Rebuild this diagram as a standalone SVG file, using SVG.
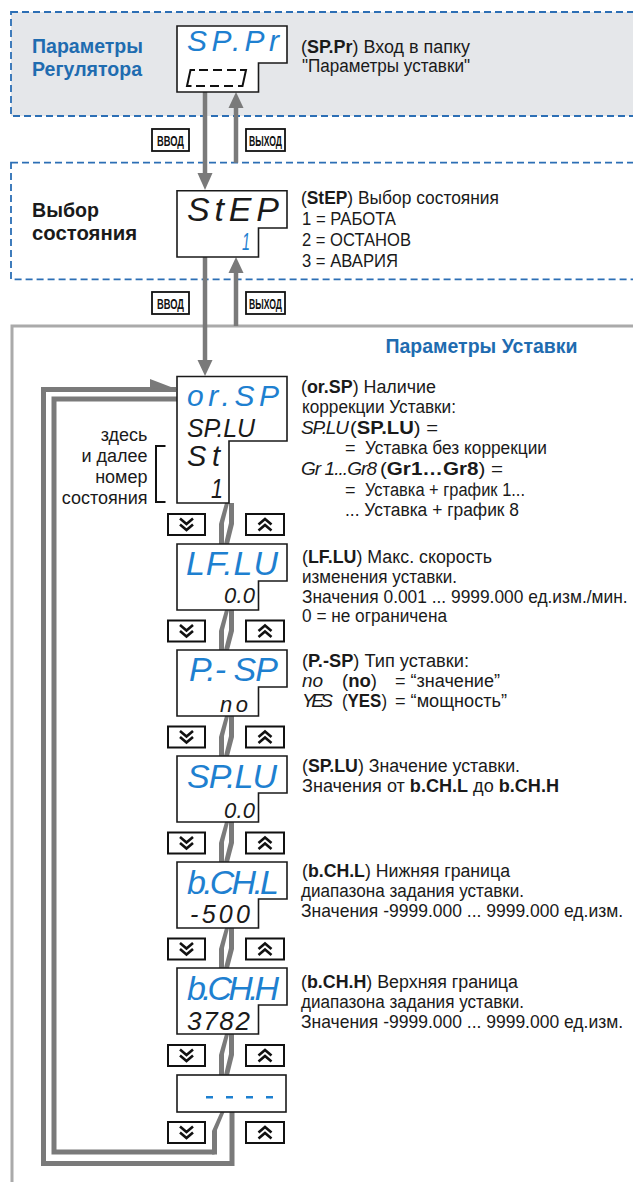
<svg xmlns="http://www.w3.org/2000/svg" width="633" height="1182" viewBox="0 0 633 1182">
<style>
.t{font-family:'Liberation Sans Narrow','Liberation Sans',Arial,sans-serif;font-size:18px;fill:#1a1a1a}
.b{font-weight:bold}
.h{font-family:'Liberation Sans Narrow','Liberation Sans',Arial,sans-serif;font-size:20px;font-weight:bold;fill:#1a1a1a}
.hb{fill:#1f6cb0}
.d{font-family:'Liberation Sans',Arial,sans-serif;font-style:italic;fill:#1a1a1a}
.db{fill:#1e80d0}
.box{fill:#fff;stroke:#1a1a1a;stroke-width:1.6}
.btn{fill:#fff;stroke:#111;stroke-width:2}
.chev{fill:none;stroke:#111;stroke-width:2.6;stroke-linejoin:miter}
.ln{stroke:#7a7a7a;stroke-width:4.5;fill:none}
.lp{stroke:#7a7a7a;stroke-width:5;fill:none;stroke-linejoin:miter}
.ah{fill:#7a7a7a}
.tag{fill:#fff;stroke:#111;stroke-width:1.8}
.tt{font-family:'Liberation Sans Narrow','Liberation Sans',Arial,sans-serif;font-size:14px;font-weight:bold;fill:#111}
.sec{fill:none;stroke:#2c6fb5;stroke-width:1.8;stroke-dasharray:7,4}
</style>
<defs>
<g id="bd"><rect class="btn" x="0" y="0" width="37" height="21"/><path class="chev" d="M12,4.5 L18.5,10 L25,4.5 M12,10.5 L18.5,16 L25,10.5"/></g>
<g id="bu"><rect class="btn" x="0" y="0" width="38" height="21"/><path class="chev" d="M12.5,10.5 L19,5 L25.5,10.5 M12.5,16.5 L19,11 L25.5,16.5"/></g>
</defs>

<g id="sections">
<rect x="11" y="12" width="640" height="104" fill="#e5e7ea"/>
<rect class="sec" x="11" y="12" width="640" height="104"/>
<rect class="sec" x="11" y="162.7" width="640" height="116.6"/>
<path d="M640,326 H12 V1190" fill="none" stroke="#aaaaaa" stroke-width="3"/>
<text class="h hb" x="32" y="53" textLength="111" lengthAdjust="spacingAndGlyphs">Параметры</text>
<text class="h hb" x="32" y="76" textLength="110" lengthAdjust="spacingAndGlyphs">Регулятора</text>
<text class="h" x="32" y="216.5" textLength="67" lengthAdjust="spacingAndGlyphs">Выбор</text>
<text class="h" x="32" y="239.5" textLength="105" lengthAdjust="spacingAndGlyphs">состояния</text>
<text class="h hb" x="385.5" y="352.5" textLength="192" lengthAdjust="spacingAndGlyphs">Параметры Уставки</text>
</g>

<g id="connectors">
<line class="ln" x1="205" y1="92" x2="205" y2="176"/>
<polygon class="ah" points="197.5,173 212.5,173 205,190"/>
<line class="ln" x1="236" y1="162.7" x2="236" y2="106"/>
<polygon class="ah" points="228.5,108 243.5,108 236,92"/>
<line class="ln" x1="205" y1="257" x2="205" y2="362"/>
<polygon class="ah" points="197.5,360 212.5,360 205,376"/>
<line class="ln" x1="236" y1="326" x2="236" y2="271"/>
<polygon class="ah" points="228.5,273 243.5,273 236,257"/>
<rect class="tag" x="152" y="129" width="37" height="22"/>
<text class="tt" x="170.5" y="145.5" text-anchor="middle" textLength="27" lengthAdjust="spacingAndGlyphs">ВВОД</text>
<rect class="tag" x="246" y="129" width="39" height="22"/>
<text class="tt" x="265.5" y="145.5" text-anchor="middle" textLength="33" lengthAdjust="spacingAndGlyphs">ВЫХОД</text>
<rect class="tag" x="152" y="292" width="37" height="22"/>
<text class="tt" x="170.5" y="308.5" text-anchor="middle" textLength="27" lengthAdjust="spacingAndGlyphs">ВВОД</text>
<rect class="tag" x="246" y="292" width="39" height="22"/>
<text class="tt" x="265.5" y="308.5" text-anchor="middle" textLength="33" lengthAdjust="spacingAndGlyphs">ВЫХОД</text>

<polygon class="ah" points="219,544 224,544 224,523 229,503 225,503 219,524"/>
<polygon class="ah" points="229,503 234,503 234,524 229,544 224,544 229,523"/>
<polygon class="ah" points="219,650 224,650 224,630 229,610 225,610 219,631"/>
<polygon class="ah" points="229,610 234,610 234,631 229,650 224,650 229,630"/>
<polygon class="ah" points="219,756 224,756 224,736 229,716 225,716 219,737"/>
<polygon class="ah" points="229,716 234,716 234,737 229,756 224,756 229,736"/>
<polygon class="ah" points="219,862 224,862 224,842 229,822 225,822 219,843"/>
<polygon class="ah" points="229,822 234,822 234,843 229,862 224,862 229,842"/>
<polygon class="ah" points="219,968 224,968 224,948 229,928 225,928 219,949"/>
<polygon class="ah" points="229,928 234,928 234,949 229,968 224,968 229,948"/>
<polygon class="ah" points="219,1075 224,1075 224,1054 229,1034 225,1034 219,1055"/>
<polygon class="ah" points="229,1034 234,1034 234,1055 229,1075 224,1075 229,1054"/>

<path class="lp" d="M177,399 H54 V1152 H214.5"/>
<polygon class="ah" points="212,1154.5 217,1154.5 217,1130 224.5,1112 220.5,1112 212,1131"/>
<path class="lp" d="M232,1112 V1163.5 H43.5 V389.5 H176"/>
<polygon class="ah" points="150,379 177.5,389.5 150,388"/>

<use href="#bd" x="168" y="514"/><use href="#bu" x="246" y="514"/>
<use href="#bd" x="168" y="620.5"/><use href="#bu" x="246" y="620.5"/>
<use href="#bd" x="168" y="726.5"/><use href="#bu" x="246" y="726.5"/>
<use href="#bd" x="168" y="832.5"/><use href="#bu" x="246" y="832.5"/>
<use href="#bd" x="168" y="938.5"/><use href="#bu" x="246" y="938.5"/>
<use href="#bd" x="168" y="1045"/><use href="#bu" x="246" y="1045"/>
<use href="#bd" x="168" y="1122"/><use href="#bu" x="246" y="1122"/>
</g>

<g id="node-SPPr">
<path class="box" d="M177,26 H287 V63 H258.5 V92 H177 Z"/>
<text class="d db" x="187" y="51" font-size="30" textLength="92" lengthAdjust="spacing">SP.Pr</text>
<g fill="none" stroke="#111" stroke-width="2">
<path d="M195,70 H190.5 L187,86 H191.5"/>
<path d="M240,70 H246 L242.5,86 H238"/>
<path d="M199,70 H208 M213,70 H222 M227,70 H236"/>
<path d="M196,86 H205 M210,86 H219 M224,86 H233"/>
</g>
<text class="t" x="301" y="53" textLength="169" lengthAdjust="spacingAndGlyphs">(<tspan class="b">SP.Pr</tspan>) Вход в папку</text>
<text class="t" x="302" y="72" textLength="168" lengthAdjust="spacingAndGlyphs">"Параметры уставки"</text>
</g>

<g id="node-StEP">
<path class="box" d="M177,190.7 H287 V228 H258.5 V257 H177 Z"/>
<text class="d" x="187" y="221" font-size="34" textLength="92" lengthAdjust="spacing">StEP</text>
<text class="d db" x="242" y="250" font-size="24" textLength="8" lengthAdjust="spacingAndGlyphs">1</text>
<text class="t" x="301" y="204" textLength="198" lengthAdjust="spacingAndGlyphs">(<tspan class="b">StEP</tspan>) Выбор состояния</text>
<text class="t" x="302" y="225" textLength="94" lengthAdjust="spacingAndGlyphs">1 = РАБОТА</text>
<text class="t" x="302" y="246" textLength="109" lengthAdjust="spacingAndGlyphs">2 = ОСТАНОВ</text>
<text class="t" x="302" y="267" textLength="96" lengthAdjust="spacingAndGlyphs">3 = АВАРИЯ</text>
</g>

<g id="node-orSP">
<path class="box" d="M177,376.5 H287 V441 H229 V503 H177 Z"/>
<text class="d db" x="187" y="406" font-size="30" textLength="92" lengthAdjust="spacing">or.SP</text>
<text class="d" x="187" y="437" font-size="25" textLength="68" lengthAdjust="spacing">SP.LU</text>
<text class="d" x="187" y="466" font-size="29" textLength="33" lengthAdjust="spacing">St</text>
<text class="d" x="211" y="498" font-size="27" textLength="12" lengthAdjust="spacingAndGlyphs">1</text>
<text class="t" x="147.5" y="441" text-anchor="end">здесь</text>
<text class="t" x="147.5" y="462" text-anchor="end">и далее</text>
<text class="t" x="147.5" y="483" text-anchor="end">номер</text>
<text class="t" x="147.5" y="504" text-anchor="end">состояния</text>
<path d="M165.5,446 H156 V502 H165.5" fill="none" stroke="#111" stroke-width="2"/>
<text class="t" x="301" y="393" textLength="135" lengthAdjust="spacingAndGlyphs">(<tspan class="b">or.SP</tspan>) Наличие</text>
<text class="t" x="302" y="413" textLength="154" lengthAdjust="spacingAndGlyphs">коррекции Уставки:</text>
<text class="d" x="301" y="434" font-size="19" textLength="48" lengthAdjust="spacing">SP.LU</text>
<text class="t" x="350" y="434" textLength="88" lengthAdjust="spacingAndGlyphs">(<tspan class="b">SP.LU</tspan>) =</text>
<text class="t" x="345" y="454">=</text>
<text class="t" x="365" y="454" textLength="182" lengthAdjust="spacingAndGlyphs">Уставка без коррекции</text>
<text class="d" x="301" y="475" font-size="19" textLength="76" lengthAdjust="spacing">Gr 1...Gr8</text>
<text class="t" x="380" y="475" textLength="123" lengthAdjust="spacingAndGlyphs">(<tspan class="b">Gr1…Gr8</tspan>) =</text>
<text class="t" x="345" y="496">=</text>
<text class="t" x="365" y="496" textLength="160" lengthAdjust="spacingAndGlyphs">Уставка + график 1...</text>
<text class="t" x="345" y="516" textLength="174" lengthAdjust="spacingAndGlyphs">... Уставка + график 8</text>
</g>

<g id="node-LFLU">
<path class="box" d="M177,544 H287 V581 H258.5 V610 H177 Z"/>
<text class="d db" x="186" y="575" font-size="34" textLength="92" lengthAdjust="spacing">LF.LU</text>
<text class="d" x="224" y="603" font-size="22" textLength="31" lengthAdjust="spacing">0.0</text>
<text class="t" x="302" y="563" textLength="190" lengthAdjust="spacingAndGlyphs">(<tspan class="b">LF.LU</tspan>) Макс. скорость</text>
<text class="t" x="302" y="583" textLength="155" lengthAdjust="spacingAndGlyphs">изменения уставки.</text>
<text class="t" transform="translate(302,603) scale(0.88,1)" x="0" y="0" textLength="370" lengthAdjust="spacingAndGlyphs">Значения 0.001 ... 9999.000 ед.изм./мин.</text>
<text class="t" x="302" y="622" textLength="145" lengthAdjust="spacingAndGlyphs">0 = не ограничена</text>
</g>

<g id="node-PSP">
<path class="box" d="M177,650 H287 V687 H258.5 V716 H177 Z"/>
<text class="d db" x="189" y="681" font-size="34" textLength="89" lengthAdjust="spacing">P.- SP</text>
<text class="d" x="220" y="712" font-size="22" textLength="28" lengthAdjust="spacing">no</text>
<text class="t" x="302" y="667" textLength="167" lengthAdjust="spacingAndGlyphs">(<tspan class="b">P.-SP</tspan>) Тип уставки:</text>
<text class="d" x="302" y="687" font-size="19" textLength="21" lengthAdjust="spacing">no</text>
<text class="t" x="342" y="687" textLength="35" lengthAdjust="spacingAndGlyphs">(<tspan class="b">no</tspan>)</text>
<text class="t" x="395" y="687" textLength="105" lengthAdjust="spacingAndGlyphs">= “значение”</text>
<text class="d" x="302" y="707" font-size="19" textLength="31" lengthAdjust="spacing">YES</text>
<text class="t" x="342" y="707" textLength="45" lengthAdjust="spacingAndGlyphs">(<tspan class="b">YES</tspan>)</text>
<text class="t" x="395" y="707" textLength="112" lengthAdjust="spacingAndGlyphs">= “мощность”</text>
</g>

<g id="node-SPLU">
<path class="box" d="M177,756 H287 V793 H258.5 V822 H177 Z"/>
<text class="d db" x="187" y="788" font-size="34" textLength="90" lengthAdjust="spacing">SP.LU</text>
<text class="d" x="224" y="818" font-size="22" textLength="31" lengthAdjust="spacing">0.0</text>
<text class="t" x="302" y="772" textLength="218" lengthAdjust="spacingAndGlyphs">(<tspan class="b">SP.LU</tspan>) Значение уставки.</text>
<text class="t" x="302" y="792" textLength="257" lengthAdjust="spacingAndGlyphs">Значения от <tspan class="b">b.CH.L</tspan> до <tspan class="b">b.CH.H</tspan></text>
</g>

<g id="node-bCHL">
<path class="box" d="M177,862 H287 V899 H258.5 V928 H177 Z"/>
<text class="d db" x="187" y="894" font-size="34" textLength="92" lengthAdjust="spacing">b.CH.L</text>
<text class="d" x="190" y="923" font-size="25" textLength="60" lengthAdjust="spacing">-500</text>
<text class="t" x="302" y="877" textLength="208" lengthAdjust="spacingAndGlyphs">(<tspan class="b">b.CH.L</tspan>) Нижняя граница</text>
<text class="t" x="301" y="897" textLength="223" lengthAdjust="spacingAndGlyphs">диапазона задания уставки.</text>
<text class="t" transform="translate(301,917) scale(0.88,1)" x="0" y="0" textLength="366" lengthAdjust="spacingAndGlyphs">Значения -9999.000 ... 9999.000 ед.изм.</text>
</g>

<g id="node-bCHH">
<path class="box" d="M177,968 H287 V1005 H258.5 V1034 H177 Z"/>
<text class="d db" x="187" y="999.5" font-size="34" textLength="92" lengthAdjust="spacing">b.CH.H</text>
<text class="d" x="187" y="1029.5" font-size="26" textLength="63" lengthAdjust="spacing">3782</text>
<text class="t" x="301" y="987.5" textLength="217" lengthAdjust="spacingAndGlyphs">(<tspan class="b">b.CH.H</tspan>) Верхняя граница</text>
<text class="t" x="301" y="1007.5" textLength="223" lengthAdjust="spacingAndGlyphs">диапазона задания уставки.</text>
<text class="t" transform="translate(301,1028) scale(0.88,1)" x="0" y="0" textLength="366" lengthAdjust="spacingAndGlyphs">Значения -9999.000 ... 9999.000 ед.изм.</text>
</g>

<g id="node-end">
<rect class="box" x="177" y="1075" width="109" height="37"/>
<g fill="#1e80d0"><rect x="206" y="1096" width="7" height="2.5"/><rect x="226" y="1096" width="7" height="2.5"/><rect x="246" y="1096" width="7" height="2.5"/><rect x="266" y="1096" width="7" height="2.5"/></g>
</g>
</svg>
